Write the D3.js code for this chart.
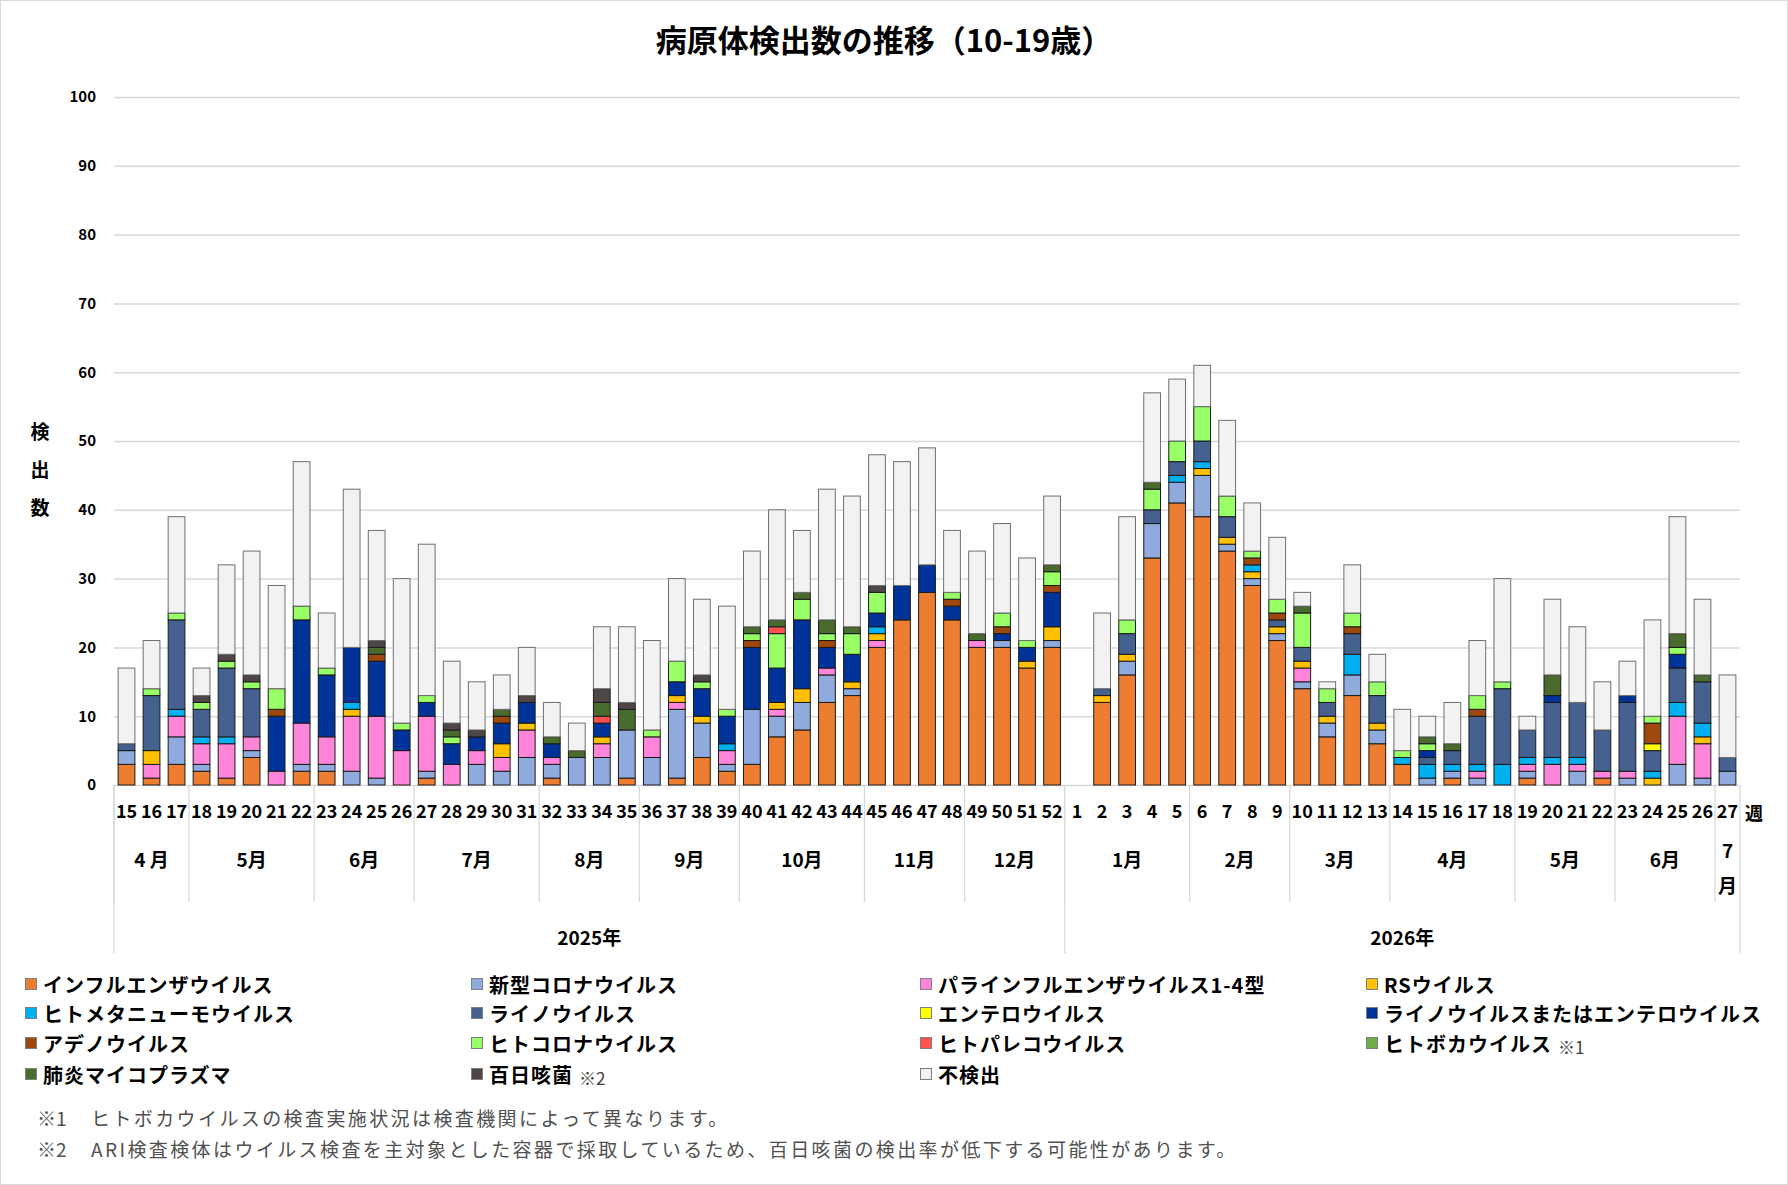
<html>
<head>
<meta charset="utf-8">
<script src="https://cdn.jsdelivr.net/npm/d3@7/dist/d3.min.js"></script>
<style>
    body { margin: 0; background: #ffffff; }
    text { font-family: "Noto Sans CJK JP", "Noto Sans", sans-serif; }
</style>
</head>
<body>
<script>

    // ---- data ----

    // week number labels, 2025 wk15 .. 2026 wk27
    var weekLabels = [
        "15","16","17","18","19","20","21","22","23","24","25","26","27","28","29","30","31","32","33",
        "34","35","36","37","38","39","40","41","42","43","44","45","46","47","48","49","50","51","52",
        "1","2","3","4","5","6","7","8","9","10","11","12","13","14","15","16","17","18","19","20",
        "21","22","23","24","25","26","27"
    ];

    // month of each week
    var weekMonth = [
        "4 月","4 月","4 月","5月","5月","5月","5月","5月","6月","6月","6月","6月",
        "7月","7月","7月","7月","7月","8月","8月","8月","8月","9月","9月","9月","9月",
        "10月","10月","10月","10月","10月","11月","11月","11月","11月","12月","12月","12月","12月",
        "1月","1月","1月","1月","1月","2月","2月","2月","2月","3月","3月","3月","3月",
        "4月","4月","4月","4月","4月","5月","5月","5月","5月","6月","6月","6月","6月","7月"
    ];

    // year of each week
    var weekYear = [
        "2025年","2025年","2025年","2025年","2025年","2025年","2025年","2025年","2025年","2025年",
        "2025年","2025年","2025年","2025年","2025年","2025年","2025年","2025年","2025年","2025年",
        "2025年","2025年","2025年","2025年","2025年","2025年","2025年","2025年","2025年","2025年",
        "2025年","2025年","2025年","2025年","2025年","2025年","2025年","2025年",
        "2026年","2026年","2026年","2026年","2026年","2026年","2026年","2026年","2026年","2026年",
        "2026年","2026年","2026年","2026年","2026年","2026年","2026年","2026年","2026年","2026年",
        "2026年","2026年","2026年","2026年","2026年","2026年","2026年"
    ];

    // series values, one per week (first 38 = 2025, last 27 = 2026)
    var influenza = [3,1,3,2,1,4,0,2,2,0, 0,0,1,0,0,0,0,1,0,0, 1,0,1,4,2,3,7,8,12,13, 20,24,28,24,20,20,17,20,
                     0,12,16,33,41,39,34,29,21,14, 7,13,6,3,0,1,0,0,1,0, 0,1,0,0,0,0,0];
    var covid     = [2,0,4,1,0,1,0,1,1,2, 1,0,1,0,3,2,4,2,4,4, 7,4,10,5,1,8,3,4,4,1, 0,0,0,0,0,1,0,1,
                     0,0,2,5,3,6,1,1,1,1, 2,3,2,0,1,1,1,0,1,0, 2,0,1,0,3,1,2];
    var parainflu = [0,2,3,3,5,2,2,6,4,8, 9,5,8,3,2,2,4,1,0,2, 0,3,1,0,2,0,1,0,1,0, 1,0,0,0,1,0,0,0,
                     0,0,0,0,0,0,0,0,0,2, 0,0,0,0,0,0,1,0,1,3, 1,1,1,0,7,5,0];
    var rsv       = [0,2,0,0,0,0,0,0,0,1, 0,0,0,0,0,2,1,0,0,1, 0,0,1,1,0,0,1,2,0,1, 1,0,0,0,0,0,1,2,
                     0,1,1,0,0,1,1,1,1,1, 1,0,1,0,0,0,0,0,0,0, 0,0,0,1,0,1,0];
    var hmpv      = [0,0,1,1,1,0,0,0,0,1, 0,0,0,0,0,0,0,0,0,0, 0,0,0,0,1,0,0,0,0,0, 1,0,0,0,0,0,0,0,
                     0,0,0,0,1,1,0,1,0,0, 0,3,0,1,2,1,1,3,1,1, 1,0,0,1,2,2,0];
    var rhino     = [1,8,13,4,10,7,0,0,0,0, 0,0,0,0,0,0,0,0,0,0, 0,0,0,0,0,0,0,0,0,0, 0,0,0,0,0,0,0,0,
                     0,1,3,2,2,3,3,0,1,2, 2,3,4,0,1,2,7,11,4,8, 8,6,10,3,5,6,2];
    var entero    = [0,0,0,0,0,0,0,0,0,0, 0,0,0,0,0,0,0,0,0,0, 0,0,0,0,0,0,0,0,0,0, 0,0,0,0,0,0,0,0,
                     0,0,0,0,0,0,0,0,0,0, 0,0,0,0,0,0,0,0,0,0, 0,0,0,1,0,0,0];
    var rhinoEntero = [0,0,0,0,0,0,8,15,9,8, 8,3,2,3,2,3,3,2,0,2, 0,0,2,4,4,9,5,10,3,4, 2,5,4,2,0,1,2,5,
                     0,0,0,0,0,0,0,0,0,0, 0,0,0,0,1,0,0,0,0,1, 0,0,1,0,2,0,0];
    var adeno     = [0,0,0,0,0,0,1,0,0,0, 1,0,0,0,0,1,0,0,0,0, 0,0,0,0,0,1,0,0,1,0, 0,0,0,1,0,1,0,1,
                     0,0,0,0,0,0,0,1,1,0, 0,1,0,0,0,0,1,0,0,0, 0,0,0,3,0,0,0];
    var hcorona   = [0,1,1,1,1,1,3,2,1,0, 0,1,1,1,0,0,0,0,0,0, 0,1,3,1,1,1,5,3,1,3, 3,0,0,1,0,2,1,2,
                     0,0,2,3,3,5,3,1,2,5, 2,2,2,1,1,0,2,1,0,0, 0,0,0,1,1,0,0];
    var parecho   = [0,0,0,0,0,0,0,0,0,0, 0,0,0,0,0,0,0,0,0,1, 0,0,0,0,0,0,1,0,0,0, 0,0,0,0,0,0,0,0,
                     0,0,0,0,0,0,0,0,0,0, 0,0,0,0,0,0,0,0,0,0, 0,0,0,0,0,0,0];
    var boca      = [0,0,0,0,0,0,0,0,0,0, 0,0,0,0,0,0,0,0,0,0, 0,0,0,0,0,0,0,0,0,0, 0,0,0,0,0,0,0,0,
                     0,0,0,0,0,0,0,0,0,0, 0,0,0,0,0,0,0,0,0,0, 0,0,0,0,0,0,0];
    var mycoplasma = [0,0,0,0,0,0,0,0,0,0, 1,0,0,1,0,1,0,1,1,2, 3,0,0,0,0,1,1,1,2,1, 0,0,0,0,1,0,0,1,
                     0,0,0,1,0,0,0,0,0,1, 0,0,0,0,1,1,0,0,0,3, 0,0,0,0,2,1,0];
    var pertussis = [0,0,0,1,1,1,0,0,0,0, 1,0,0,1,1,0,1,0,0,2, 1,0,0,1,0,0,0,0,0,0, 1,0,0,0,0,0,0,0,
                     0,0,0,0,0,0,0,0,0,0, 0,0,0,0,0,0,0,0,0,0, 0,0,0,0,0,0,0];
    var notDetected = [11,7,14,4,13,18,15,21,8,23, 16,21,22,9,7,5,7,5,4,9, 11,13,12,11,15,11,16,9,19,19, 19,18,17,9,12,13,12,10,
                     0,11,15,13,9,6,11,7,9,2, 1,7,4,6,3,6,8,15,2,11, 11,7,5,14,17,11,12];

    // y axis ticks
    var yTicks = [0, 10, 20, 30, 40, 50, 60, 70, 80, 90, 100];

    // series, bottom of stack first: name, values, colour, footnote mark
    var series = [
        { name: "インフルエンザウイルス", values: influenza, colour: "#ED7D31", note: "" },
        { name: "新型コロナウイルス", values: covid, colour: "#8FAADC", note: "" },
        { name: "パラインフルエンザウイルス1-4型", values: parainflu, colour: "#FF85DA", note: "" },
        { name: "RSウイルス", values: rsv, colour: "#FFC000", note: "" },
        { name: "ヒトメタニューモウイルス", values: hmpv, colour: "#00B0F0", note: "" },
        { name: "ライノウイルス", values: rhino, colour: "#44618F", note: "" },
        { name: "エンテロウイルス", values: entero, colour: "#FFFF00", note: "" },
        { name: "ライノウイルスまたはエンテロウイルス", values: rhinoEntero, colour: "#003399", note: "" },
        { name: "アデノウイルス", values: adeno, colour: "#9E480E", note: "" },
        { name: "ヒトコロナウイルス", values: hcorona, colour: "#99FF66", note: "" },
        { name: "ヒトパレコウイルス", values: parecho, colour: "#FF5050", note: "" },
        { name: "ヒトボカウイルス", values: boca, colour: "#70AD47", note: "※1" },
        { name: "肺炎マイコプラズマ", values: mycoplasma, colour: "#4A6B2E", note: "" },
        { name: "百日咳菌", values: pertussis, colour: "#4F4747", note: "※2" },
        { name: "不検出", values: notDetected, colour: "#F2F2F2", note: "" }
    ];

    var footnotes = [
        { mark: "※1", text: "ヒトボカウイルスの検査実施状況は検査機関によって異なります。" },
        { mark: "※2", text: "ARI検査検体はウイルス検査を主対象とした容器で採取しているため、百日咳菌の検出率が低下する可能性があります。" }
    ];

    // ---- layout ----
    var width = 1788, height = 1185;
    var plotLeft = 114, plotRight = 1740, plotTop = 97, plotBottom = 785;
    var gridColour = "#d9d9d9";

    var svg = d3.select("body")
        .append("svg")
        .attr("width", width)
        .attr("height", height);

    // outer chart border
    svg.append("rect")
        .attr("x", 0.5).attr("y", 0.5)
        .attr("width", width - 1).attr("height", height - 1)
        .attr("fill", "#ffffff")
        .attr("stroke", gridColour);

    // title
    svg.append("text")
        .attr("x", 884).attr("y", 38)
        .attr("text-anchor", "middle")
        .attr("dominant-baseline", "central")
        .attr("font-size", 31)
        .attr("font-weight", "bold")
        .text("病原体検出数の推移（10-19歳）");

    // one row per week for d3.stack
    var ids = weekLabels.map(function (w, i) { return weekYear[i] + "-" + w; });
    var rows = ids.map(function (id, i) {
        var row = { id: id };
        series.forEach(function (s) { row[s.name] = s.values[i]; });
        return row;
    });

    var x = d3.scaleBand()
        .domain(ids)
        .range([plotLeft, plotRight])
        .paddingInner(0.33)
        .paddingOuter(0.165);

    var y = d3.scaleLinear()
        .domain([0, 100])
        .range([plotBottom, plotTop]);

    // horizontal gridlines
    var grid = svg.append("g")
        .attr("transform", "translate(" + plotLeft + ",0)")
        .call(d3.axisLeft(y).tickValues(yTicks).tickSize(-(plotRight - plotLeft)).tickFormat(""));
    grid.select(".domain").remove();
    grid.selectAll("line").attr("stroke", gridColour).attr("stroke-width", 1.5);

    // y tick labels
    var yAxis = svg.append("g")
        .attr("transform", "translate(" + plotLeft + ",0)")
        .call(d3.axisLeft(y).tickValues(yTicks).tickSize(0).tickPadding(18));
    yAxis.select(".domain").remove();
    yAxis.selectAll("text")
        .attr("font-family", "'Noto Sans CJK JP', sans-serif")
        .attr("font-size", 15)
        .attr("font-weight", "bold")
        .attr("fill", "#000");

    // vertical y title
    svg.append("g").selectAll("text")
        .data(["検", "出", "数"])
        .join("text")
        .attr("x", 40)
        .attr("y", function (d, i) { return 430 + i * 38; })
        .attr("text-anchor", "middle")
        .attr("dominant-baseline", "central")
        .attr("font-size", 19)
        .attr("font-weight", "bold")
        .text(function (d) { return d; });

    // stacked bars
    var stacked = d3.stack().keys(series.map(function (s) { return s.name; }))(rows);

    var layer = svg.append("g").selectAll("g")
        .data(stacked)
        .join("g")
        .attr("fill", function (d, i) { return series[i].colour; })
        .attr("stroke", function (d) { return d.key === "不検出" ? "#6f6f6f" : "#1a1a1a"; })
        .attr("stroke-width", 1);

    layer.selectAll("rect")
        .data(function (d) { return d.filter(function (p) { return p[1] > p[0]; }); })
        .join("rect")
        .attr("x", function (p) { return x(p.data.id); })
        .attr("y", function (p) { return y(p[1]); })
        .attr("width", x.bandwidth())
        .attr("height", function (p) { return y(p[0]) - y(p[1]); });

    // week labels via bottom axis
    var xAxis = svg.append("g")
        .attr("transform", "translate(0," + plotBottom + ")")
        .call(d3.axisBottom(x).tickSize(0).tickPadding(0)
            .tickFormat(function (d, i) { return weekLabels[i]; }));
    xAxis.select(".domain").remove();
    xAxis.selectAll("text")
        .attr("font-family", "'Noto Sans CJK JP', sans-serif")
        .attr("font-size", 18)
        .attr("font-weight", "bold")
        .attr("fill", "#000")
        .attr("y", 27)
        .attr("dy", "0.35em");

    svg.append("text")
        .attr("x", 1754).attr("y", 812)
        .attr("text-anchor", "middle")
        .attr("dominant-baseline", "central")
        .attr("font-size", 18)
        .attr("font-weight", "bold")
        .text("週");

    // slot edge helper
    function edge(i) { return plotLeft + x.step() * i; }

    // group consecutive weeks
    function runs(keyOf, labelOf) {
        var out = [];
        ids.forEach(function (id, i) {
            var k = keyOf(i);
            if (!out.length || out[out.length - 1].k !== k) {
                out.push({ k: k, label: labelOf(i), start: i, end: i });
            } else {
                out[out.length - 1].end = i;
            }
        });
        return out;
    }

    var monthGroups = runs(function (i) { return weekYear[i] + weekMonth[i]; }, function (i) { return weekMonth[i]; });
    var yearGroups = runs(function (i) { return weekYear[i]; }, function (i) { return weekYear[i]; });

    var sep = svg.append("g").attr("stroke", gridColour).attr("stroke-width", 1.3);

    // month separators (short) and year separators (long)
    monthGroups.forEach(function (g) {
        sep.append("line")
            .attr("x1", edge(g.start)).attr("x2", edge(g.start))
            .attr("y1", plotBottom).attr("y2", 902);
    });
    yearGroups.forEach(function (g) {
        sep.append("line")
            .attr("x1", edge(g.start)).attr("x2", edge(g.start))
            .attr("y1", plotBottom).attr("y2", 953);
    });
    sep.append("line")
        .attr("x1", edge(ids.length)).attr("x2", edge(ids.length))
        .attr("y1", plotBottom).attr("y2", 953);

    // month labels
    var monthText = svg.append("g")
        .attr("font-size", 19)
        .attr("font-weight", "bold")
        .attr("text-anchor", "middle");

    monthGroups.forEach(function (g) {
        var cx = (edge(g.start) + edge(g.end + 1)) / 2;
        if (g.end === g.start) {
            // narrow column: wrap the label one character per line
            g.label.split("").forEach(function (c, j) {
                monthText.append("text")
                    .attr("x", cx).attr("y", 849 + j * 35)
                    .attr("dominant-baseline", "central")
                    .text(c);
            });
        } else {
            monthText.append("text")
                .attr("x", cx).attr("y", 858)
                .attr("dominant-baseline", "central")
                .text(g.label);
        }
    });

    // year labels
    svg.append("g").selectAll("text")
        .data(yearGroups)
        .join("text")
        .attr("x", function (g) { return (edge(g.start) + edge(g.end + 1)) / 2; })
        .attr("y", 936)
        .attr("text-anchor", "middle")
        .attr("dominant-baseline", "central")
        .attr("font-size", 19)
        .attr("font-weight", "bold")
        .text(function (g) { return g.label; });

    // legend, 4 columns
    var legendCols = [25, 471, 920, 1366];
    var legendRows = [984, 1013, 1043, 1074];

    var legend = svg.append("g").selectAll("g")
        .data(series)
        .join("g")
        .attr("transform", function (s, i) {
            return "translate(" + legendCols[i % 4] + "," + legendRows[Math.floor(i / 4)] + ")";
        });

    legend.append("rect")
        .attr("x", 0.5).attr("y", -5.5)
        .attr("width", 11).attr("height", 11)
        .attr("fill", function (s) { return s.colour; })
        .attr("stroke", "#7f7f7f")
        .attr("stroke-width", 1);

    var legendText = legend.append("text")
        .attr("x", 18)
        .attr("dominant-baseline", "central")
        .attr("font-size", 20)
        .attr("font-weight", "bold")
        .attr("letter-spacing", 1)
        .text(function (s) { return s.name; });

    legendText.filter(function (s) { return s.note !== ""; })
        .append("tspan")
        .attr("dx", 6)
        .attr("dy", 3)
        .attr("font-size", 17)
        .attr("font-weight", "normal")
        .attr("letter-spacing", 0)
        .attr("fill", "#404040")
        .text(function (s) { return s.note; });

    // footnotes
    var notes = svg.append("g").selectAll("g")
        .data(footnotes)
        .join("g")
        .attr("transform", function (d, i) { return "translate(0," + (1117 + i * 31) + ")"; })
        .attr("font-size", 19)
        .attr("fill", "#505050");

    notes.append("text")
        .attr("x", 37)
        .attr("dominant-baseline", "central")
        .text(function (d) { return d.mark; });

    notes.append("text")
        .attr("x", 91)
        .attr("dominant-baseline", "central")
        .attr("letter-spacing", 2.4)
        .text(function (d) { return d.text; });

</script>
</body>
</html>
